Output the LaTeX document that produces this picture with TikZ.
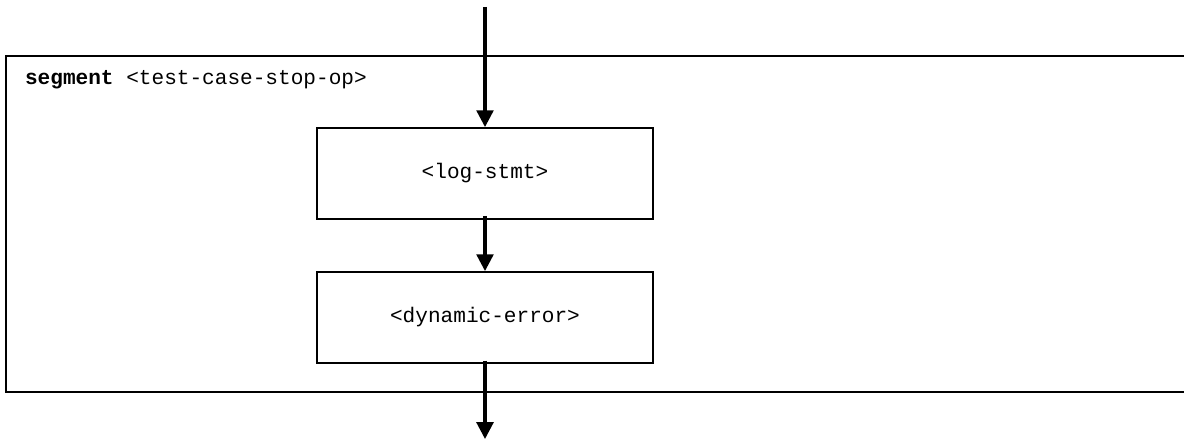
\documentclass[tikz,border=0pt]{standalone}
\usepackage{fontspec}
\setmonofont{Liberation Mono}
\usetikzlibrary{arrows.meta}

\begin{document}
\begin{tikzpicture}[line cap=butt,line join=miter,
  stmt/.style={draw,line width=1.3pt,minimum width=8.4cm,minimum height=2.275cm,
    font=\fontsize{15}{18}\selectfont\ttfamily},
  flow/.style={line width=2.2pt,-{Triangle[width=0.42cm,length=0.42cm]}}]
  \useasboundingbox (0,0) rectangle (29.6,11.025);
  % segment frame
  \draw[line width=1.3pt] (30,9.625) -- (0.15,9.625) -- (0.15,1.225) -- (30,1.225);
  \node[anchor=west,inner sep=0pt,font=\fontsize{15}{18}\selectfont\ttfamily]
    (seg) at (0.62,9.025) {\textbf{segment} <test-case-stop-op>};
  % statements
  \node[stmt] (log) at (12.125,6.6875) {<log-stmt>};
  \node[stmt] (dyn) at (12.125,3.0875) {<dynamic-error>};
  \coordinate (in) at (12.125,10.85);
  \coordinate (out) at (12.125,0.05);
  % flow
  \draw[flow] (in) -- (log.north);
  \draw[flow] ([yshift=0.1cm]log.south) -- (dyn.north);
  \draw[flow] ([yshift=0.08cm]dyn.south) -- (out);
\end{tikzpicture}
\end{document}
